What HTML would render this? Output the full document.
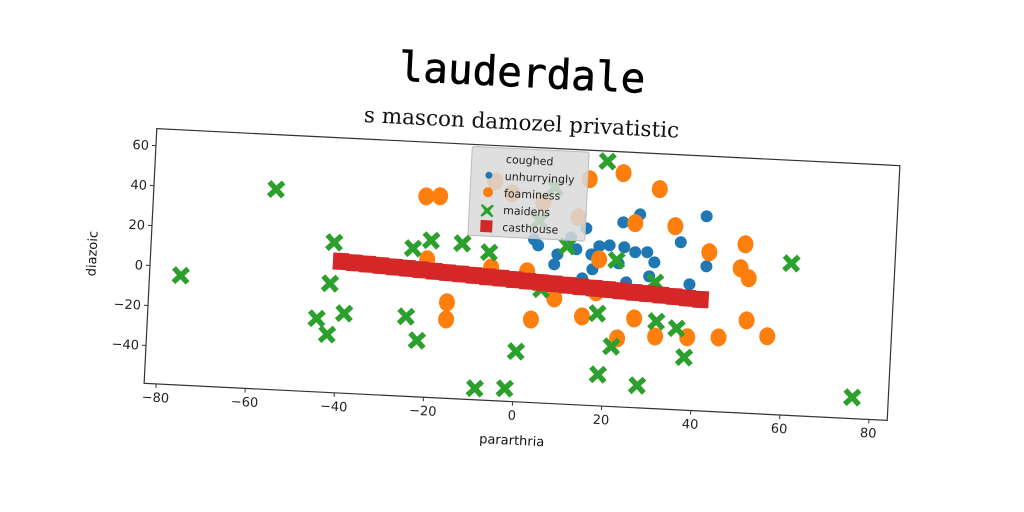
<!DOCTYPE html>
<html><head><meta charset="utf-8"><style>
html,body{margin:0;padding:0;background:#fff;}
svg{display:block;font-family:"DejaVu Sans","Liberation Sans",sans-serif;}
</style></head><body>
<svg id="chart" width="1024" height="512" viewBox="0 0 1024 512" xmlns="http://www.w3.org/2000/svg">
<g id="rot" transform="rotate(2.85 522 274.5)">
<text x="512" y="87" text-anchor="middle" font-family="'DejaVu Sans Mono','Liberation Mono',monospace" font-size="41" fill="#000" stroke="#000" stroke-width="0.6">lauderdale</text>
<text x="514" y="130" text-anchor="middle" font-family="'DejaVu Serif','Liberation Serif',serif" font-size="21.5" fill="#111">s mascon damozel privatistic</text>
<rect x="150" y="147" width="744" height="255" fill="#fff" stroke="#333" stroke-width="1.2"/>
<g id="marks"></g>
<g id="axes"></g>
<text x="520" y="445" text-anchor="middle" font-size="13" fill="#111">pararthria</text>
<text x="96" y="275" text-anchor="middle" font-size="13" fill="#111" transform="rotate(-90 96 275)">diazoic</text>
<g>
<rect x="466" y="149" width="117" height="89" rx="2" fill="#d9d9d9" fill-opacity="0.85" stroke="#bbb"/>
<text x="524" y="164" text-anchor="middle" font-size="11" fill="#222">coughed</text>
<circle cx="484" cy="177" r="3.5" fill="#1f77b4"/>
<text x="500" y="181" font-size="11" fill="#222">unhurryingly</text>
<circle cx="484" cy="194" r="5" fill="#ff7f0e"/>
<text x="500" y="198" font-size="11" fill="#222">foaminess</text>
<path d="M479,206 l5,4 l5,-4 l1.5,1.5 l-4,5 l4,5 l-1.5,1.5 l-5,-4 l-5,4 l-1.5,-1.5 l4,-5 l-4,-5z" fill="#2ca02c"/>
<text x="500" y="215" font-size="11" fill="#222">maidens</text>
<rect x="478" y="222" width="12" height="12" fill="#d62728"/>
<text x="500" y="232" font-size="11" fill="#222">casthouse</text>
</g>
</g>
</svg>
<script>
const xTicks=[-80,-60,-40,-20,0,20,40,60,80];
const yTicks=[-40,-20,0,20,40,60];
const blueX=[26.5,22.8,41.4,14.6,11.3,3,4,8.4,7.8,12.6,16,17.7,20,23.3,25.8,28.5,30.2,35.9,41.9,16.4,22.2,29.2,38.3,24.1,14.2];
const blueY=[37.7,33.3,38.4,29.4,24.5,22.6,19.7,15.7,10.6,18.7,16.5,20.8,21.5,20.9,18.7,19,14.1,24.8,13.4,9.1,12.7,7,4,3.4,4.3];
const orangeX=[-21.6,-18.5,14.8,22.3,30.6,25.5,34.5,42.4,50.4,49.6,51.5,-15.8,-15.8,3.2,8.2,14.6,26.3,51.5,56.3,45.4,38.4,31.2,22.7,17.8,-20.7,-6.3,1.8,-6.3,-2.4,4.7,12.7,17.5];
const orangeY=[41.4,41.8,54,57.9,50.8,33.2,32.7,20.5,25.4,13.3,8.5,-11,-19.6,-17.5,-6.4,-14.7,-14.4,-12.6,-20,-21.8,-22.5,-22.9,-24.8,14.2,10,7.5,6.5,50.6,45,41.4,34.7,-2.3];
const greenX=[-75.7,-55.3,-41.7,-42.2,-44.8,-38.7,-42.3,-24,-20,-24.8,-22.1,-13,-6.9,-8.6,-1.9,0.2,18.6,21.7,18,21.5,18.8,27.7,30.6,31.3,35.9,37.9,60.9,76,5.2,10.5,7.2,4];
const greenY=[-4.2,41.2,16.1,-4.5,-22.3,-19.1,-30,15.1,19.5,-19.1,-30.8,18.8,15,-53.3,-52.6,-33.8,63.4,14.2,-12.8,-29,-43.3,-47.8,4.2,-15.3,-18.3,-32.6,17,-48.4,-2.2,20,49,32];
const redX=[-40,-37,-34,-31,-28,-25,-22,-19,-16,-13,-10,-7,-4,-1,2,5,8,11,14,17,20,23,26,29,32,35,38,41];
const redY=[6.8,6.4,6.1,5.7,5.3,5,4.6,4.2,3.8,3.5,3.1,2.7,2.4,2,1.6,1.2,0.9,0.5,0.1,-0.3,-0.6,-1,-1.4,-1.7,-2.1,-2.5,-2.9,-3.3];
const X0=150,X1=894,Y0=147,Y1=402,XMIN=-82.7,XMAX=84.1,YMIN=-59,YMAX=68.5;
function sx(v){return X0+(v-XMIN)/(XMAX-XMIN)*(X1-X0);}
function sy(v){return Y1-(v-YMIN)/(YMAX-YMIN)*(Y1-Y0);}
const NS="http://www.w3.org/2000/svg";
const marks=document.getElementById('marks'),axes=document.getElementById('axes');
function mk(tag,attrs,parent){const e=document.createElementNS(NS,tag);for(const k in attrs)e.setAttribute(k,attrs[k]);parent.appendChild(e);return e;}
xTicks.forEach(t=>{
  const x=sx(t);
  const l=mk('line',{x1:x,x2:x,y1:Y1,y2:Y1+4,stroke:'#333'},axes);
  
  
  const tx=mk('text',{x:x,y:Y1+18,'text-anchor':'middle','font-size':13,fill:'#222'},axes);
  tx.textContent=t<0?'\u2212'+(-t):String(t);
  
  
});
yTicks.forEach(t=>{
  const y=sy(t);
  const l=mk('line',{x1:X0-4,x2:X0,y1:y,y2:y,stroke:'#333'},axes);
  
  
  const tx=mk('text',{x:X0-7,y:y+4.5,'text-anchor':'end','font-size':13,fill:'#222'},axes);
  tx.textContent=t<0?'\u2212'+(-t):String(t);
  
  
});
blueX.forEach((v,i)=>{
  const c=mk('circle',{cx:sx(v),cy:sy(blueY[i]),r:6,fill:'#1f77b4'},marks);
  
  
});
orangeX.forEach((v,i)=>{
  const c=mk('ellipse',{cx:sx(v),cy:sy(orangeY[i]),rx:8,ry:9,fill:'#ff7f0e'},marks);
  
  
});
greenX.forEach((v,i)=>{
  const x=sx(v),y=sy(greenY[i]),a=9,b=3.8;
  const d=`M${x-a+b},${y-a} L${x},${y-b} L${x+a-b},${y-a} L${x+a},${y-a+b} L${x+b},${y} L${x+a},${y+a-b} L${x+a-b},${y+a} L${x},${y+b} L${x-a+b},${y+a} L${x-a},${y+a-b} L${x-b},${y} L${x-a},${y-a+b} Z`;
  const p=mk('path',{d:d,fill:'#2ca02c'},marks);
  
  
});
redX.forEach((v,i)=>{
  const r=mk('rect',{x:sx(v)-8,y:sy(redY[i])-8.5,width:16,height:17,fill:'#d62728'},marks);
  
  
});
</script>
</body></html>
